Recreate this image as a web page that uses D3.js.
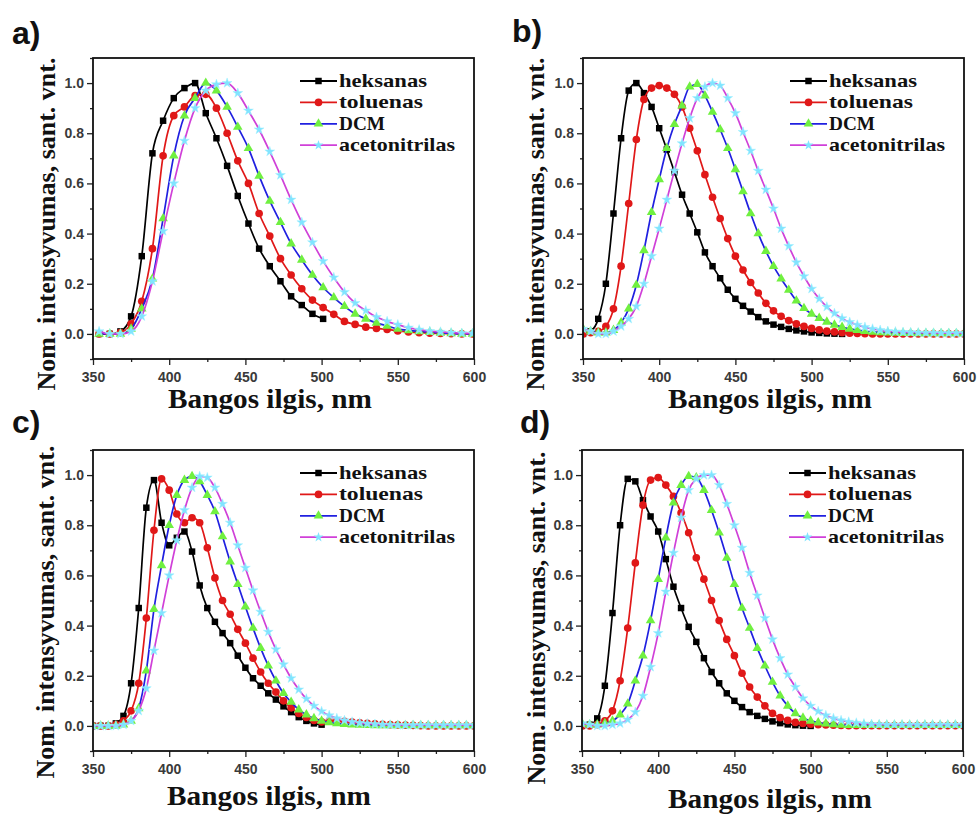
<!DOCTYPE html>
<html><head><meta charset="utf-8">
<script src="https://cdn.jsdelivr.net/npm/d3@7"></script>
<style>body{margin:0;background:#fff}svg{display:block}</style>
</head><body>
<svg id="chart" width="979" height="816"></svg>
<script>
// ---------------- DATA ----------------
const panelLabels = ["a)", "b)", "c)", "d)"];
const seriesNames = ["heksanas", "toluenas", "DCM", "acetonitrilas"];
const xTickValues = [350, 400, 450, 500, 550, 600];
const yTickValues = [0.0, 0.2, 0.4, 0.6, 0.8, 1.0];
const xLabel = "Bangos ilgis, nm";
const yLabel = "Nom. intensyvumas, sant. vnt.";

// panel a sampled every 7 nm
const wavelengthA = [354,361,368,375,382,389,396,403,410,417,424,431,438,445,452,459,466,473,480,487,494,501,508,515,522,529,536,543,550,557,564,571,578,585,592,599];
// panels b, c, d sampled every 5 nm
const wavelength5 = [350,355,360,365,370,375,380,385,390,395,400,405,410,415,420,425,430,435,440,445,450,455,460,465,470,475,480,485,490,495,500,505,510,515,520,525,530,535,540,545,550,555,560,565,570,575,580,585,590,595,600];

const aHeksanas = [0,0,0.01,0.07,0.31,0.72,0.85,0.94,0.98,1.0,0.88,0.78,0.67,0.55,0.44,0.34,0.27,0.21,0.15,0.115,0.08,0.06,null,null,null,null,null,null,null,null,null,null,null,null,null,null];
const aToluenas = [0,0,0.005,0.04,0.13,0.34,0.71,0.87,0.905,0.95,0.955,0.9,0.8,0.69,0.6,0.48,0.39,0.3,0.235,0.18,0.135,0.105,0.078,0.05,0.038,0.027,0.022,0.018,0.012,0.008,0.005,0.003,0.002,0.001,0,0];
const aDCM = [0,0,0,0.02,0.1,0.22,0.46,0.71,0.87,0.94,1.0,0.97,0.905,0.825,0.74,0.63,0.53,0.445,0.36,0.295,0.235,0.185,0.145,0.11,0.08,0.06,0.044,0.032,0.02,0.014,0.01,0.007,0.004,0.002,0,0];
const aAcetonitrilas = [0.01,0,0,0.01,0.07,0.21,0.41,0.6,0.77,0.9,0.97,0.995,1.0,0.96,0.89,0.815,0.727,0.633,0.535,0.445,0.365,0.29,0.225,0.167,0.123,0.093,0.067,0.05,0.037,0.025,0.017,0.011,0.008,0.005,0.003,0.002];

const bHeksanas = [0,0.01,0.06,0.2,0.48,0.78,0.97,1.0,0.96,0.905,0.82,0.735,0.645,0.555,0.48,0.405,0.325,0.27,0.222,0.176,0.14,0.112,0.089,0.067,0.05,0.037,0.028,0.02,0.014,0.01,0.006,0.004,0.002,0.001,0,null,null,null,null,null,null,null,null,null,null,null,null,null,null,null,null];
const bToluenas = [0,0.005,0.01,0.03,0.1,0.27,0.52,0.775,0.935,0.98,0.99,0.98,0.955,0.905,0.82,0.73,0.635,0.545,0.46,0.38,0.31,0.255,0.205,0.163,0.122,0.092,0.07,0.053,0.04,0.03,0.022,0.016,0.011,0.008,0.005,0.003,0.002,0.001,0,0,0,0,0,0,0,0,0,0,0,0,0];
const bDCM = [0.02,0.01,0.005,0.005,0.015,0.045,0.1,0.195,0.333,0.485,0.616,0.74,0.836,0.91,0.985,0.995,0.95,0.885,0.815,0.74,0.656,0.568,0.48,0.4,0.33,0.27,0.22,0.175,0.132,0.102,0.08,0.063,0.048,0.036,0.027,0.02,0.015,0.011,0.008,0.006,0.005,0.004,0.003,0.003,0.002,0.002,0.002,0.002,0.002,0.002,0.002];
const bAcetonitrilas = [0.02,0.01,0,0,0.01,0.03,0.06,0.11,0.2,0.31,0.42,0.535,0.65,0.76,0.86,0.94,0.985,1.0,0.99,0.94,0.88,0.805,0.73,0.65,0.575,0.5,0.42,0.35,0.285,0.23,0.18,0.14,0.108,0.082,0.062,0.047,0.036,0.027,0.02,0.015,0.011,0.009,0.007,0.006,0.005,0.004,0.004,0.003,0.003,0.003,0.003];

const cHeksanas = [0,0,0,0.01,0.04,0.17,0.47,0.87,0.98,0.81,0.72,0.75,0.775,0.695,0.56,0.47,0.415,0.37,0.33,0.28,0.232,0.19,0.16,0.13,0.105,0.078,0.055,0.035,0.02,0.01,0.005,null,null,null,null,null,null,null,null,null,null,null,null,null,null,null,null,null,null,null,null];
const cToluenas = [0,0,0,0.005,0.02,0.06,0.17,0.43,0.78,0.985,0.94,0.845,0.81,0.83,0.81,0.71,0.59,0.5,0.445,0.385,0.33,0.27,0.215,0.17,0.135,0.1,0.072,0.05,0.034,0.022,0.016,0.02,0.02,0.018,0.015,0.012,0.01,0.008,0.006,0.005,0.004,0.003,0.002,0.001,0,0,0,0,0,0,0];
const cDCM = [0,0,0,0,0.005,0.02,0.07,0.22,0.465,0.64,0.8,0.92,0.98,0.995,0.975,0.92,0.855,0.755,0.655,0.565,0.475,0.39,0.31,0.24,0.18,0.13,0.095,0.065,0.045,0.03,0.02,0.014,0.01,0.007,0.005,0.004,0.003,0.002,0.002,0.002,0.002,0.002,0.002,0.002,0.002,0.002,0.002,0.002,0.002,0.002,0.002];
const cAcetonitrilas = [0,0,0,0,0.005,0.02,0.06,0.15,0.3,0.45,0.6,0.74,0.86,0.95,0.995,0.99,0.95,0.885,0.81,0.72,0.63,0.54,0.455,0.375,0.305,0.245,0.19,0.145,0.108,0.08,0.058,0.042,0.03,0.022,0.016,0.012,0.009,0.007,0.005,0.004,0.003,0.003,0.003,0.003,0.003,0.003,0.003,0.003,0.003,0.003,0.003];

const dHeksanas = [0,0.005,0.03,0.16,0.45,0.8,0.985,0.975,0.9,0.835,0.775,0.665,0.555,0.47,0.395,0.335,0.27,0.215,0.17,0.13,0.1,0.075,0.055,0.04,0.028,0.018,0.011,0.006,0.003,0.001,0,null,null,null,null,null,null,null,null,null,null,null,null,null,null,null,null,null,null,null,null];
const dToluenas = [0,0,0.005,0.02,0.06,0.18,0.39,0.65,0.88,0.98,0.99,0.96,0.915,0.85,0.77,0.67,0.585,0.5,0.42,0.345,0.28,0.21,0.155,0.115,0.08,0.05,0.033,0.022,0.014,0.01,0.007,0.005,0.004,0.003,0.002,0.001,0.001,0.001,0.001,0.001,0.001,0.001,0.001,0.001,0.001,0.001,0.001,0.001,0.001,0.001,0.001];
const dDCM = [0.01,0.005,0.005,0.01,0.02,0.045,0.088,0.18,0.28,0.42,0.585,0.75,0.89,0.96,0.995,0.99,0.94,0.86,0.77,0.67,0.565,0.47,0.39,0.31,0.24,0.175,0.12,0.08,0.05,0.032,0.02,0.013,0.009,0.006,0.004,0.003,0.003,0.003,0.003,0.003,0.003,0.003,0.003,0.003,0.003,0.003,0.003,0.003,0.003,0.003,0.003];
const dAcetonitrilas = [0.01,0.005,0,0,0.005,0.01,0.025,0.055,0.12,0.235,0.37,0.535,0.69,0.83,0.94,0.985,1.0,1.0,0.96,0.885,0.8,0.71,0.61,0.52,0.43,0.345,0.27,0.205,0.155,0.11,0.08,0.058,0.042,0.03,0.022,0.016,0.012,0.009,0.007,0.006,0.005,0.005,0.005,0.005,0.005,0.005,0.005,0.005,0.005,0.005,0.005];

// ---------------- STYLE / LAYOUT ----------------
const styles = [
  {line: "#000000", fill: "#000000", symbol: d3.symbolSquare, size: 42},
  {line: "#e01818", fill: "#e01818", symbol: d3.symbolCircle, size: 46},
  {line: "#2020e0", fill: "#70f040", symbol: d3.symbolTriangle, size: 40},
  {line: "#d040d8", fill: "#80e4ff", symbol: d3.symbolStar, size: 30}
];
const legendWidths = [88, 84, 46, 116];
const panelBoxes = [
  {left: 93,  top: 58,  lab: [12, 44],  xTitleX: 270, xTitleY: 408, yTitleX: 55, yTitleY: 224},
  {left: 583, top: 58,  lab: [512, 42], xTitleX: 770, xTitleY: 408, yTitleX: 544, yTitleY: 224},
  {left: 93,  top: 450, lab: [12, 433], xTitleX: 269, xTitleY: 805, yTitleX: 54, yTitleY: 612},
  {left: 582, top: 450, lab: [520, 433], xTitleX: 770, xTitleY: 808, yTitleX: 545, yTitleY: 618}
];
const W = 381, H = 301;

const panelData = [
  {x: wavelengthA, ys: [aHeksanas, aToluenas, aDCM, aAcetonitrilas]},
  {x: wavelength5, ys: [bHeksanas, bToluenas, bDCM, bAcetonitrilas]},
  {x: wavelength5, ys: [cHeksanas, cToluenas, cDCM, cAcetonitrilas]},
  {x: wavelength5, ys: [dHeksanas, dToluenas, dDCM, dAcetonitrilas]}
];

const svg = d3.select("#chart");
svg.append("rect").attr("width", 979).attr("height", 816).attr("fill", "#fff");

panelData.forEach((pd, pi) => {
  const box = panelBoxes[pi];
  const x = d3.scaleLinear().domain([350, 600]).range([0, W]);
  const y = d3.scaleLinear().domain([-0.1, 1.1]).range([H, 0]);
  const g = svg.append("g").attr("transform", `translate(${box.left},${box.top})`);

  const clipId = "clip" + pi;
  g.append("clipPath").attr("id", clipId).append("rect").attr("width", W).attr("height", H);

  const plot = g.append("g").attr("clip-path", `url(#${clipId})`);
  pd.ys.forEach((vals, si) => {
    const st = styles[si];
    const pts = pd.x.map((xv, i) => ({x: xv, y: vals[i]})).filter(p => p.y !== null);
    const line = d3.line().x(p => x(p.x)).y(p => y(p.y)).curve(d3.curveMonotoneX);
    plot.append("path").datum(pts).attr("d", line)
      .attr("fill", "none").attr("stroke", st.line).attr("stroke-width", 1.7);
    plot.selectAll(null).data(pts).enter().append("path")
      .attr("d", d3.symbol().type(st.symbol).size(st.size))
      .attr("transform", p => `translate(${x(p.x)},${y(p.y)})`)
      .attr("fill", st.fill).attr("stroke", si === 3 ? "#a0f0ff" : "none").attr("stroke-width", 0.5);
  });

  const xMinor = [375, 425, 475, 525, 575];
  const yMinor = [-0.1, 0.1, 0.3, 0.5, 0.7, 0.9, 1.1];
  const xAxis = g.append("g").attr("transform", `translate(0,${H})`)
    .call(d3.axisBottom(x).tickValues(xTickValues).tickSize(6).tickPadding(3).tickFormat(d3.format("d")));
  g.append("g").attr("transform", `translate(0,${H})`)
    .call(d3.axisBottom(x).tickValues(xMinor).tickSize(3).tickFormat(""))
    .call(a => a.select(".domain").remove());
  const yAxis = g.append("g")
    .call(d3.axisLeft(y).tickValues(yTickValues).tickSize(6).tickPadding(3).tickFormat(d3.format(".1f")));
  g.append("g")
    .call(d3.axisLeft(y).tickValues(yMinor).tickSize(3).tickFormat(""))
    .call(a => a.select(".domain").remove());
  [xAxis, yAxis].forEach(a => {
    a.selectAll("text").attr("font-family", "Liberation Sans, Arial, sans-serif")
      .attr("font-size", 14).attr("font-weight", "bold").attr("fill", "#3a3a3a");
  });
  xAxis.selectAll("text").attr("dy", "1.0em");
  g.selectAll(".tick line").attr("stroke", "#222").attr("stroke-width", 1.3);
  g.selectAll(".domain").attr("stroke", "none");

  g.append("rect").attr("width", W).attr("height", H)
    .attr("fill", "none").attr("stroke", "#111").attr("stroke-width", 1.8);

  // legend
  const lg = g.append("g").attr("transform", "translate(207,29)");
  seriesNames.forEach((name, si) => {
    const st = styles[si];
    const row = lg.append("g").attr("transform", `translate(0,${si * 21.4})`);
    row.append("line").attr("x1", 0).attr("x2", 37).attr("y1", -6).attr("y2", -6)
      .attr("stroke", st.line).attr("stroke-width", 1.8);
    row.append("path").attr("d", d3.symbol().type(st.symbol).size(st.size))
      .attr("transform", "translate(18.5,-6)").attr("fill", st.fill);
    row.append("text").attr("x", 39).attr("y", 0).text(name)
      .attr("font-family", "Liberation Serif, 'Times New Roman', serif")
      .attr("font-weight", "bold").attr("font-size", 19).attr("fill", "#111")
      .attr("textLength", legendWidths[si]).attr("lengthAdjust", "spacingAndGlyphs");
  });

  svg.append("text").attr("x", box.xTitleX).attr("y", box.xTitleY)
    .attr("text-anchor", "middle").text(xLabel)
    .attr("font-family", "Liberation Serif, 'Times New Roman', serif")
    .attr("font-weight", "bold").attr("font-size", 27).attr("fill", "#111")
    .attr("textLength", 204).attr("lengthAdjust", "spacingAndGlyphs");
  svg.append("text")
    .attr("transform", `translate(${box.yTitleX},${box.yTitleY}) rotate(-90)`)
    .attr("text-anchor", "middle").text(yLabel)
    .attr("font-family", "Liberation Serif, 'Times New Roman', serif")
    .attr("font-weight", "bold").attr("font-size", 26).attr("fill", "#111")
    .attr("textLength", 333).attr("lengthAdjust", "spacingAndGlyphs");
  svg.append("text").attr("x", box.lab[0]).attr("y", box.lab[1]).text(panelLabels[pi])
    .attr("font-family", "Liberation Sans, Arial, sans-serif")
    .attr("font-weight", "bold").attr("font-size", 32).attr("fill", "#111");
});
</script>
</body></html>
